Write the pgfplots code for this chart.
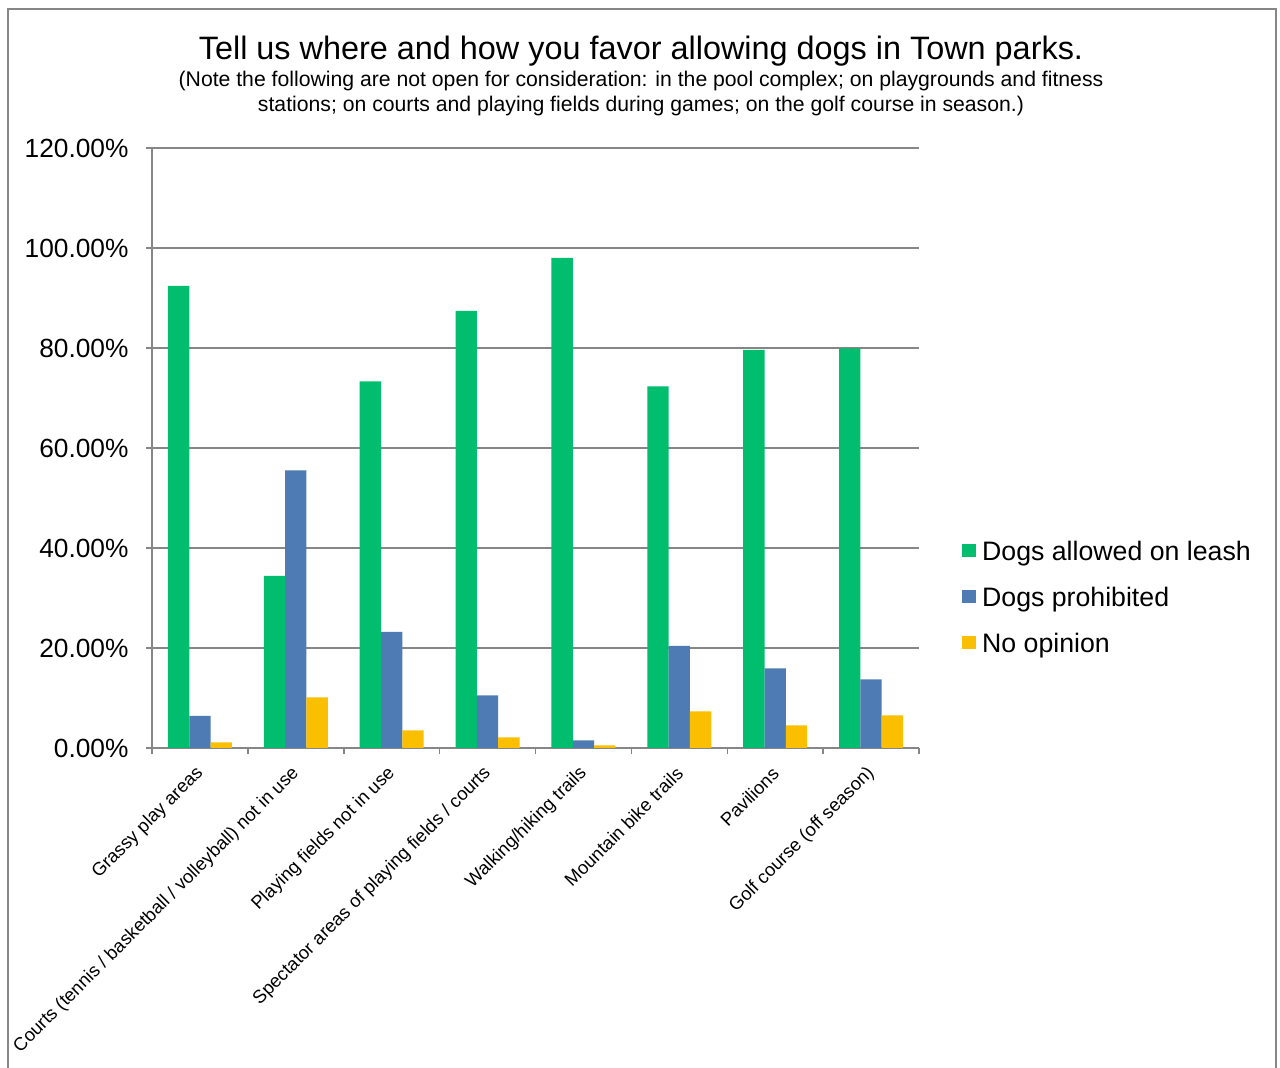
\documentclass[border=0pt]{standalone}
\usepackage{fontspec}
\setmainfont{Liberation Sans}
\usepackage{pgfplots}
\pgfplotsset{compat=1.18}
\definecolor{cgreen}{RGB}{0,190,110}
\definecolor{cblue}{RGB}{79,123,181}
\definecolor{cyellow}{RGB}{249,191,0}
\definecolor{cgrid}{RGB}{134,134,134}
\begin{document}
\begin{tikzpicture}
\path[use as bounding box, fill=white] (0pt,0pt) rectangle (1280pt,1068pt);
\draw[cgrid, line width=1.5pt] (8pt,-20pt) -- (8pt,1059pt) -- (1276pt,1059pt) -- (1276pt,-20pt);
\node[font=\fontsize{32.4}{38}\selectfont] at (641pt,1017pt) {Tell us where and how you favor allowing dogs in Town parks.};
\node[font=\fontsize{21.2}{25}\selectfont, align=center] at (641pt,974.5pt) {(Note the following are not open for consideration: in the pool complex; on playgrounds and fitness\\stations; on courts and playing fields during games; on the golf course in season.)};
\begin{axis}[
  at={(152pt,320pt)}, anchor=south west, scale only axis, width=767pt, height=600pt,
  ymin=0, ymax=120, ytick={0,20,...,120},
  xmin=-0.5, xmax=7.5, xtick={0,...,7},
  xticklabels={Grassy play areas,Courts (tennis / basketball / volleyball) not in use,Playing fields not in use,Spectator areas of playing fields / courts,Walking/hiking trails,Mountain bike trails,Pavilions,Golf course (off season)},
  major x tick style={draw=none},
  minor xtick={-0.5,0.5,...,7.5},
  ybar=0pt, bar width=21.3pt,
  ymajorgrids, grid style={cgrid, line width=1.5pt},
  axis line style={cgrid, line width=1.5pt},
  axis x line*=bottom, axis y line*=left,
  tick align=outside, tick style={cgrid, line width=1.5pt},
  major tick length=6pt, minor tick length=6pt,
  /pgf/number format/assume math mode=true,
  yticklabel={\pgfmathprintnumber[fixed,fixed zerofill,precision=2]{\tick}\%},
  yticklabel style={font=\fontsize{26.3}{30}\selectfont, xshift=-14pt},
  xticklabel style={rotate=45, anchor=east, font=\fontsize{18.4}{22}\selectfont, xshift=-8pt, yshift=-12pt},
  legend style={at={(1.0560,0.2483)}, anchor=west, draw=none, fill=none, inner sep=0pt,
    font=\fontsize{26.7}{30}\selectfont, row sep=22pt,
    nodes={inner sep=0pt, text height=19pt, text depth=5pt}},
  legend cell align=left,
  legend image code/.code={\fill[#1] (0pt,-4pt) rectangle (14pt,9pt); \path (20pt,0pt);},
]
\addplot[fill=cgreen, draw=none] coordinates {(0,92.4) (1,34.4) (2,73.3) (3,87.4) (4,98.0) (5,72.3) (6,79.6) (7,79.9)};
\addplot[fill=cblue, draw=none] coordinates {(0,6.4) (1,55.5) (2,23.2) (3,10.5) (4,1.5) (5,20.4) (6,15.9) (7,13.7)};
\addplot[fill=cyellow, draw=none] coordinates {(0,1.1) (1,10.1) (2,3.5) (3,2.1) (4,0.5) (5,7.3) (6,4.5) (7,6.5)};
\legend{Dogs allowed on leash, Dogs prohibited, No opinion}
\end{axis}
\end{tikzpicture}
\end{document}
